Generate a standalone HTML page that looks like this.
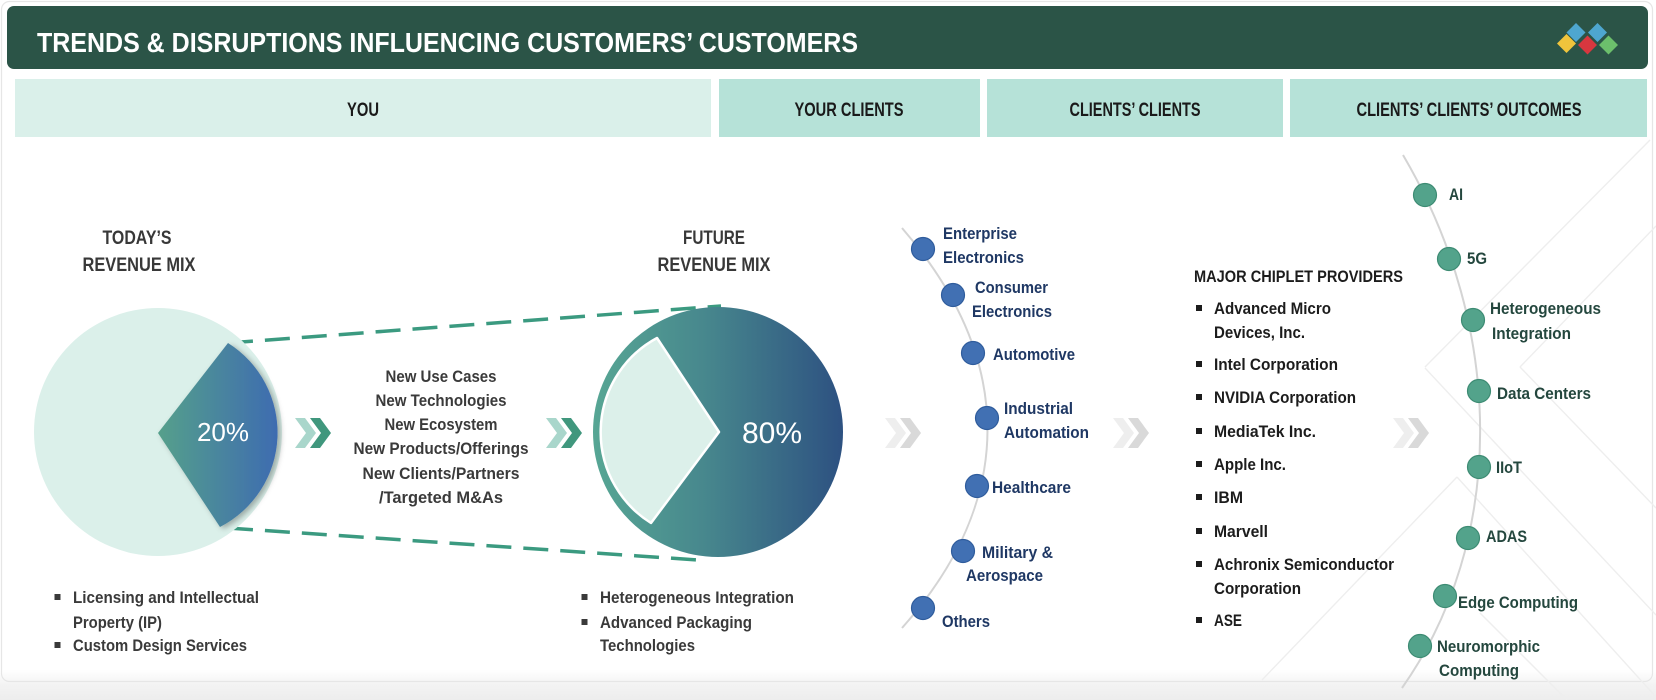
<!DOCTYPE html>
<html><head><meta charset="utf-8"><style>
html,body{margin:0;padding:0;background:#fff;}
svg{display:block;}
text{font-family:"Liberation Sans",Arial,sans-serif;}
.b{font-weight:bold;}
</style></head><body>
<svg width="1656" height="700" viewBox="0 0 1656 700" xmlns="http://www.w3.org/2000/svg">
<defs>
<linearGradient id="bot" x1="0" y1="0" x2="0" y2="1">
<stop offset="0" stop-color="#ffffff"/><stop offset="0.5" stop-color="#f3f3f3"/><stop offset="1" stop-color="#ededed"/>
</linearGradient>
<linearGradient id="w1" x1="158" y1="0" x2="277" y2="0" gradientUnits="userSpaceOnUse">
<stop offset="0" stop-color="#55a08b"/><stop offset="1" stop-color="#3e6cb0"/>
</linearGradient>
<linearGradient id="p2" x1="593" y1="0" x2="843" y2="0" gradientUnits="userSpaceOnUse">
<stop offset="0" stop-color="#57a694"/><stop offset="0.45" stop-color="#47878d"/><stop offset="1" stop-color="#2d5181"/>
</linearGradient>
<filter id="sh" x="-20%" y="-20%" width="150%" height="140%">
<feDropShadow dx="3" dy="2" stdDeviation="3" flood-color="#000" flood-opacity="0.3"/>
</filter>
</defs>

<rect x="0" y="0" width="1656" height="700" fill="#ffffff"/>
<rect x="0" y="670" width="1656" height="30" fill="url(#bot)"/>
<rect x="1.5" y="1.5" width="1651" height="680" rx="8" fill="none" stroke="#e6e6e6" stroke-width="1.2"/>

<!-- decorative faint lines -->
<g stroke="#eeeeee" stroke-width="1.4" fill="none">
<line x1="1425" y1="367" x2="1650" y2="140"/>
<line x1="1425" y1="368" x2="1656" y2="615"/>
<line x1="1520" y1="367" x2="1656" y2="226"/>
<line x1="1520" y1="367" x2="1656" y2="508"/>
<line x1="1457" y1="477" x2="1262" y2="680"/>
<line x1="1457" y1="477" x2="1656" y2="697"/>
<line x1="1480" y1="613" x2="1567" y2="700"/>
</g>

<!-- header -->
<rect x="7" y="6" width="1641" height="63" rx="7" fill="#2b5447"/>
<text x="37" y="52" class="b" font-size="28" fill="#ffffff" textLength="821" lengthAdjust="spacingAndGlyphs">TRENDS &amp; DISRUPTIONS INFLUENCING CUSTOMERS’ CUSTOMERS</text>
<g>
<polygon points="1576,23 1585.5,32.5 1576,42 1566.5,32.5" fill="#4ea6cf"/>
<polygon points="1597.5,23 1607,32.5 1597.5,42 1588,32.5" fill="#4ea6cf"/>
<polygon points="1566.5,34 1576,43.5 1566.5,53 1557,43.5" fill="#f0c43c"/>
<polygon points="1587.5,35.5 1597,45 1587.5,54.5 1578,45" fill="#d8373f"/>
<polygon points="1608.5,35.5 1618,45 1608.5,54.5 1599,45" fill="#6cbf6c"/>
</g>

<!-- column bands -->
<rect x="15" y="79" width="696" height="58" fill="#daf0ea"/>
<rect x="719" y="79" width="261" height="58" fill="#b6e2d8"/>
<rect x="987" y="79" width="296" height="58" fill="#b6e2d8"/>
<rect x="1290" y="79" width="357" height="58" fill="#b6e2d8"/>
<g class="b" font-size="19" fill="#1a1a1a" text-anchor="middle">
<text x="363" y="116" textLength="32" lengthAdjust="spacingAndGlyphs">YOU</text>
<text x="849" y="116" textLength="109" lengthAdjust="spacingAndGlyphs">YOUR CLIENTS</text>
<text x="1135" y="116" textLength="131" lengthAdjust="spacingAndGlyphs">CLIENTS’ CLIENTS</text>
<text x="1469" y="116" textLength="225" lengthAdjust="spacingAndGlyphs">CLIENTS’ CLIENTS’ OUTCOMES</text>
</g>

<!-- titles -->
<g class="b" font-size="19" fill="#383838" text-anchor="middle">
<text x="137" y="244" textLength="69" lengthAdjust="spacingAndGlyphs">TODAY’S</text>
<text x="139" y="271" textLength="113" lengthAdjust="spacingAndGlyphs">REVENUE MIX</text>
<text x="714" y="244" textLength="62" lengthAdjust="spacingAndGlyphs">FUTURE</text>
<text x="714" y="271" textLength="113" lengthAdjust="spacingAndGlyphs">REVENUE MIX</text>
</g>

<!-- dashed connectors -->
<g stroke="#3b9a80" stroke-width="3.5" stroke-dasharray="25 12" fill="none">
<line x1="228" y1="343" x2="721" y2="306"/>
<line x1="228" y1="528" x2="698" y2="560"/>
</g>

<!-- pie 1 -->
<circle cx="158" cy="432" r="124" fill="#dbf0ea"/>
<path d="M158 433 L228 343 A106 106 0 0 1 220 527 Z" fill="url(#w1)" filter="url(#sh)"/>
<text x="223" y="441" font-size="26" fill="#ffffff" text-anchor="middle">20%</text>

<!-- pie 2 -->
<circle cx="718" cy="432" r="125" fill="url(#p2)"/>
<path d="M719 432 L657 338 A107 107 0 0 0 651 523 Z" fill="#dcf0ea" stroke="#ffffff" stroke-width="2.5" stroke-linejoin="round"/>
<text x="772" y="443" font-size="30" fill="#ffffff" text-anchor="middle">80%</text>

<!-- chevrons -->
<g>
<polygon points="295,418 305,418 316,433 305,448 295,448 306,433" fill="#a9d6cb"/>
<polygon points="310,418 320,418 331,433 320,448 310,448 321,433" fill="#40977d"/>
<polygon points="546,418 556,418 567,433 556,448 546,448 557,433" fill="#a9d6cb"/>
<polygon points="561,418 571,418 582,433 571,448 561,448 572,433" fill="#40977d"/>
<polygon points="885,418 895,418 906,433 895,448 885,448 896,433" fill="#eeeeee"/>
<polygon points="900,418 910,418 921,433 910,448 900,448 911,433" fill="#d9d9d9"/>
<polygon points="1113,418 1123,418 1134,433 1123,448 1113,448 1124,433" fill="#eeeeee"/>
<polygon points="1128,418 1138,418 1149,433 1138,448 1128,448 1139,433" fill="#d9d9d9"/>
<polygon points="1393,418 1403,418 1414,433 1403,448 1393,448 1404,433" fill="#eeeeee"/>
<polygon points="1408,418 1418,418 1429,433 1418,448 1408,448 1419,433" fill="#d9d9d9"/>
</g>

<!-- middle text -->
<g class="b" font-size="17" fill="#3a3a3a" text-anchor="middle">
<text x="441" y="382" textLength="111" lengthAdjust="spacingAndGlyphs">New Use Cases</text>
<text x="441" y="406" textLength="131" lengthAdjust="spacingAndGlyphs">New Technologies</text>
<text x="441" y="430" textLength="113" lengthAdjust="spacingAndGlyphs">New Ecosystem</text>
<text x="441" y="454" textLength="175" lengthAdjust="spacingAndGlyphs">New Products/Offerings</text>
<text x="441" y="479" textLength="157" lengthAdjust="spacingAndGlyphs">New Clients/Partners</text>
<text x="441" y="503" textLength="124" lengthAdjust="spacingAndGlyphs">/Targeted M&amp;As</text>
</g>

<!-- bullets under pies -->
<g fill="#3a3a3a">
<rect x="54.5" y="594" width="6" height="6"/>
<rect x="54.5" y="642" width="6" height="6"/>
<rect x="581.5" y="594" width="6" height="6"/>
<rect x="581.5" y="619" width="6" height="6"/>
</g>
<g class="b" font-size="17" fill="#3a3a3a">
<text x="73" y="603" textLength="186" lengthAdjust="spacingAndGlyphs">Licensing and Intellectual</text>
<text x="73" y="628" textLength="89" lengthAdjust="spacingAndGlyphs">Property (IP)</text>
<text x="73" y="651" textLength="174" lengthAdjust="spacingAndGlyphs">Custom Design Services</text>
<text x="600" y="603" textLength="194" lengthAdjust="spacingAndGlyphs">Heterogeneous Integration</text>
<text x="600" y="628" textLength="152" lengthAdjust="spacingAndGlyphs">Advanced Packaging</text>
<text x="600" y="651" textLength="95" lengthAdjust="spacingAndGlyphs">Technologies</text>
</g>

<!-- your clients -->
<path d="M902 228 C1016 360 1016 500 902 628" fill="none" stroke="#d4d4d4" stroke-width="2"/>
<g fill="#4170b3" stroke="#2f5c9c" stroke-width="1.2">
<circle cx="923" cy="249" r="11.5"/>
<circle cx="953" cy="295" r="11.5"/>
<circle cx="973" cy="353" r="11.5"/>
<circle cx="987" cy="418" r="11.5"/>
<circle cx="977" cy="486" r="11.5"/>
<circle cx="963" cy="551" r="11.5"/>
<circle cx="923" cy="608" r="11.5"/>
</g>
<g class="b" font-size="17" fill="#1f3864">
<text x="943" y="239" textLength="74" lengthAdjust="spacingAndGlyphs">Enterprise</text>
<text x="943" y="263" textLength="81" lengthAdjust="spacingAndGlyphs">Electronics</text>
<text x="975" y="293" textLength="73" lengthAdjust="spacingAndGlyphs">Consumer</text>
<text x="972" y="317" textLength="80" lengthAdjust="spacingAndGlyphs">Electronics</text>
<text x="993" y="360" textLength="82" lengthAdjust="spacingAndGlyphs">Automotive</text>
<text x="1004" y="414" textLength="69" lengthAdjust="spacingAndGlyphs">Industrial</text>
<text x="1004" y="438" textLength="85" lengthAdjust="spacingAndGlyphs">Automation</text>
<text x="992" y="493" textLength="79" lengthAdjust="spacingAndGlyphs">Healthcare</text>
<text x="982" y="558" textLength="71" lengthAdjust="spacingAndGlyphs">Military &amp;</text>
<text x="966" y="581" textLength="77" lengthAdjust="spacingAndGlyphs">Aerospace</text>
<text x="942" y="627" textLength="48" lengthAdjust="spacingAndGlyphs">Others</text>
</g>

<!-- chiplet providers -->
<g class="b" font-size="17" fill="#1c1c1c">
<text x="1194" y="282" textLength="209" lengthAdjust="spacingAndGlyphs">MAJOR CHIPLET PROVIDERS</text>
<text x="1214" y="314" textLength="117" lengthAdjust="spacingAndGlyphs">Advanced Micro</text>
<text x="1214" y="338" textLength="91" lengthAdjust="spacingAndGlyphs">Devices, Inc.</text>
<text x="1214" y="370" textLength="124" lengthAdjust="spacingAndGlyphs">Intel Corporation</text>
<text x="1214" y="403" textLength="142" lengthAdjust="spacingAndGlyphs">NVIDIA Corporation</text>
<text x="1214" y="437" textLength="102" lengthAdjust="spacingAndGlyphs">MediaTek Inc.</text>
<text x="1214" y="470" textLength="72" lengthAdjust="spacingAndGlyphs">Apple Inc.</text>
<text x="1214" y="503" textLength="29" lengthAdjust="spacingAndGlyphs">IBM</text>
<text x="1214" y="537" textLength="54" lengthAdjust="spacingAndGlyphs">Marvell</text>
<text x="1214" y="570" textLength="180" lengthAdjust="spacingAndGlyphs">Achronix Semiconductor</text>
<text x="1214" y="594" textLength="87" lengthAdjust="spacingAndGlyphs">Corporation</text>
<text x="1214" y="626" textLength="28" lengthAdjust="spacingAndGlyphs">ASE</text>
</g>
<g fill="#1c1c1c">
<rect x="1196" y="305" width="6" height="6"/>
<rect x="1196" y="361" width="6" height="6"/>
<rect x="1196" y="394" width="6" height="6"/>
<rect x="1196" y="428" width="6" height="6"/>
<rect x="1196" y="461" width="6" height="6"/>
<rect x="1196" y="494" width="6" height="6"/>
<rect x="1196" y="528" width="6" height="6"/>
<rect x="1196" y="561" width="6" height="6"/>
<rect x="1196" y="617" width="6" height="6"/>
</g>

<!-- outcomes -->
<path d="M1403 155 C1506 330 1506 540 1402 688" fill="none" stroke="#d4d4d4" stroke-width="2"/>
<g fill="#53a38b" stroke="#3d8b73" stroke-width="1.2">
<circle cx="1425" cy="195" r="11.5"/>
<circle cx="1449" cy="259" r="11.5"/>
<circle cx="1473" cy="320" r="11.5"/>
<circle cx="1479" cy="391" r="11.5"/>
<circle cx="1479" cy="467" r="11.5"/>
<circle cx="1468" cy="538" r="11.5"/>
<circle cx="1445" cy="596" r="11.5"/>
<circle cx="1420" cy="646" r="11.5"/>
</g>
<g class="b" font-size="17" fill="#24473e">
<text x="1449" y="200" textLength="14" lengthAdjust="spacingAndGlyphs">AI</text>
<text x="1467" y="264" textLength="20" lengthAdjust="spacingAndGlyphs">5G</text>
<text x="1490" y="314" textLength="111" lengthAdjust="spacingAndGlyphs">Heterogeneous</text>
<text x="1492" y="339" textLength="79" lengthAdjust="spacingAndGlyphs">Integration</text>
<text x="1497" y="399" textLength="94" lengthAdjust="spacingAndGlyphs">Data Centers</text>
<text x="1496" y="473" textLength="26" lengthAdjust="spacingAndGlyphs">IIoT</text>
<text x="1486" y="542" textLength="41" lengthAdjust="spacingAndGlyphs">ADAS</text>
<text x="1458" y="608" textLength="120" lengthAdjust="spacingAndGlyphs">Edge Computing</text>
<text x="1437" y="652" textLength="103" lengthAdjust="spacingAndGlyphs">Neuromorphic</text>
<text x="1439" y="676" textLength="80" lengthAdjust="spacingAndGlyphs">Computing</text>
</g>
</svg>
</body></html>
